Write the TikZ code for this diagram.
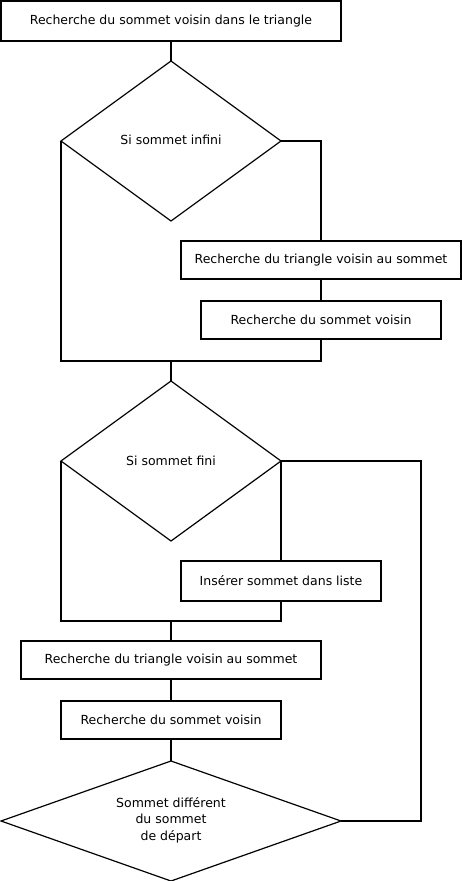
\documentclass[tikz,border=0pt]{standalone}
\usepackage{fontspec}
\setmainfont{DejaVu Sans}
\usetikzlibrary{shapes.geometric}
\begin{document}
\begin{tikzpicture}[x=1pt,y=-1pt,
  every node/.style={font=\fontsize{12.5}{16.5}\selectfont, inner sep=0pt, outer sep=0pt},
  box/.style={draw, line width=1.2pt, rectangle, minimum width=#1},
  boxh/.style={minimum height=40pt},
  boxm/.style={minimum height=38pt},
  dia/.style={draw, line width=1.2pt, diamond, align=center},
  conn/.style={line width=1.2pt}]
\useasboundingbox (0,0) rectangle (462,881);
\node[box=340, boxh] (b1) at (171,21) {Recherche du sommet voisin dans le triangle};
\node[dia, minimum width=220pt, minimum height=160pt] (d1) at (171,141) {};
\node at (171,140) {Si sommet infini};
\node[box=280, boxm] (b2) at (321,260) {Recherche du triangle voisin au sommet};
\node[box=240, boxm] (b3) at (321,320) {Recherche du sommet voisin};
\node[dia, minimum width=220pt, minimum height=160pt] (d2) at (171,461) {};
\node at (171,461) {Si sommet fini};
\node[box=200, boxh] (b4) at (281,581) {Insérer sommet dans liste};
\node[box=300, boxm] (b5) at (171,660) {Recherche du triangle voisin au sommet};
\node[box=220, boxm] (b6) at (171,720) {Recherche du sommet voisin};
\node[dia, minimum width=340pt, minimum height=120pt] (d3) at (171,821) {};
\node[align=center] (t3) at (171,820) {Sommet différent\\du sommet\\de départ};
\coordinate (j1) at (171,361);
\coordinate (j2) at (171,621);
\coordinate (r) at (421,461);
\draw[conn] (b1.south) -- (d1.north);
\draw[conn] (d1.east) -| (b2.north);
\draw[conn] (b2.south) -- (b3.north);
\draw[conn] (b3.south) |- (j1) -| (d1.west);
\draw[conn] (j1) -- (d2.north);
\draw[conn] (d2.east) -- (r) |- (d3.east);
\draw[conn] (d2.east) -- (b4.north);
\draw[conn] (d2.west) |- (j2) -| (b4.south);
\draw[conn] (j2) -- (b5.north);
\draw[conn] (b5.south) -- (b6.north);
\draw[conn] (b6.south) -- (d3.north);
\end{tikzpicture}
\end{document}
